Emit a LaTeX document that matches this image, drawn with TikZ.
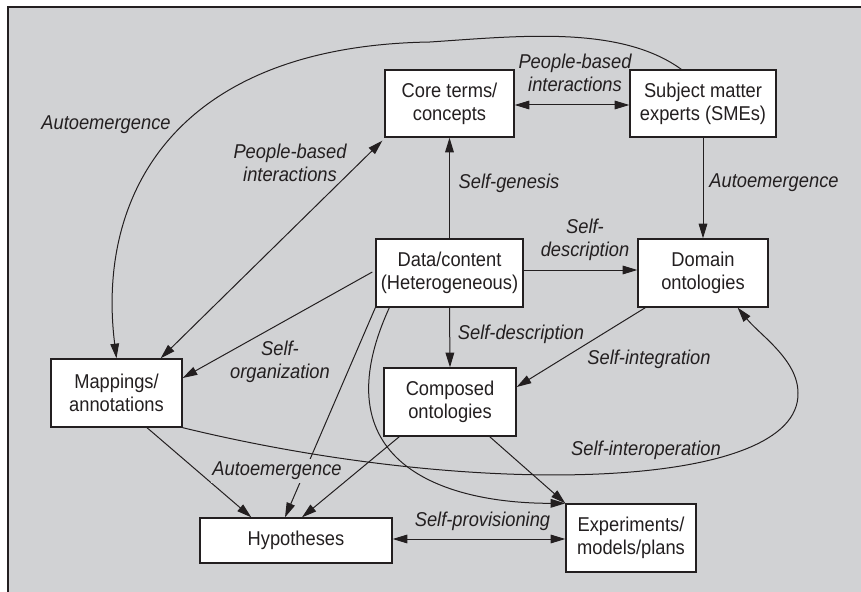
\documentclass[tikz,border=0pt]{standalone}
\usepackage{fontspec}
\setmainfont{Liberation Sans}[FakeStretch=0.915]
\usetikzlibrary{arrows.meta,calc}
\newdimen\pxu
\pxu=0.75pt
\definecolor{bg}{HTML}{D1D2D4}
\definecolor{ink}{HTML}{231F20}
\tikzset{
  box/.style={draw=ink, fill=white, line width=1pt, align=center, inner sep=0pt, text=ink},
  lbl/.style={font=\fontsize{15pt}{17pt}\selectfont\itshape, align=center, text=ink, inner sep=0pt},
  con/.style={draw=ink, line width=0.75pt, -{Triangle[length=11pt,width=6.5pt]}},
  dcon/.style={draw=ink, line width=0.75pt, {Triangle[length=11pt,width=6.5pt]}-{Triangle[length=11pt,width=6.5pt]}},
  every node/.style={font=\fontsize{15pt}{17pt}\selectfont}
}
\begin{document}
\begin{tikzpicture}[x=0.75pt, y=-0.75pt]
\useasboundingbox (0,0) rectangle (861,592);
\fill[bg] (8,7) rectangle (861,592);
\draw[ink, line width=1.2pt] (8,592) -- (8,7) -- (861,7);

% nodes
\node[box, minimum width=129\pxu, minimum height=67\pxu] (core) at (449.5,103.5) {Core terms/\\concepts};
\node[box, minimum width=146\pxu, minimum height=67\pxu] (sme) at (703,103.5) {Subject matter\\experts (SMEs)};
\node[box, minimum width=147\pxu, minimum height=68\pxu] (data) at (449.5,273) {Data/content\\(Heterogeneous)};
\node[box, minimum width=130\pxu, minimum height=68\pxu] (dom) at (703,273) {Domain\\ontologies};
\node[box, minimum width=131\pxu, minimum height=68\pxu] (map) at (116.5,393) {Mappings/\\annotations};
\node[box, minimum width=132\pxu, minimum height=68\pxu] (comp) at (450,402) {Composed\\ontologies};
\node[box, minimum width=192\pxu, minimum height=45\pxu] (hyp) at (296,540.5) {Hypotheses};
\node[box, minimum width=130\pxu, minimum height=68\pxu] (exp) at (631,538) {Experiments/\\models/plans};

% connectors
\draw[dcon] ([yshift=-1.5\pxu]core.east) -- ([yshift=-1.5\pxu]sme.west);
\draw[con] (sme.south) -- (dom.north);
\draw[con] (data.north) -- (core.south);
\draw[con] ([yshift=3\pxu]data.east) -- ([yshift=3\pxu]data.east -| dom.west);
\draw[con] (data.south) -- (comp.north);
\draw[con] ([xshift=8\pxu]dom.south west) -- ([yshift=15\pxu]comp.east);
\draw[con] ([xshift=-3\pxu,yshift=1\pxu]data.west) -- ([yshift=15\pxu]map.east);
\draw[con] ([xshift=52\pxu]sme.north west) .. controls (620,25) and (520,36) .. (430,42)
           .. controls (175,46) and (96,195) .. (map.north);
\draw[dcon] ([xshift=-22\pxu]map.north east) -- ([xshift=-2\pxu,yshift=-3\pxu]core.south west);
\draw[con] (data.south west) -- ([xshift=-11\pxu]hyp.north);
\draw[con] ([xshift=14\pxu]data.south west) .. controls +(-70,153) and +(-125,0) .. (exp.north west);
\draw[con] ([xshift=30.5\pxu]map.south) -- ([xshift=52\pxu]hyp.north west);
\draw[con] ([xshift=16\pxu]comp.south west) -- ([xshift=6\pxu]hyp.north);
\draw[con] ([xshift=-27\pxu]comp.south east) -- (exp.north west);
\draw[dcon] ([yshift=1.5\pxu]hyp.east) -- ([yshift=1.5\pxu]hyp.east -| exp.west);
\draw[con] (map.south east) .. controls (480,500) and (800,490) .. (798,393)
           .. controls (798,360) and (760,335) .. ([xshift=-31\pxu]dom.south east);

% labels
\node[lbl] (l1) at (575,73) {People-based\\interactions};
\node[lbl] (l2) at (774,183) {Autoemergence};
\node[lbl] (l3) at (509,183) {Self-genesis};
\node[lbl] (l4) at (585,240) {Self-\\description};
\node[lbl] (l5) at (521,334) {Self-description};
\node[lbl] (l6) at (649,359) {Self-integration};
\node[lbl] (l7) at (280,362) {Self-\\organization};
\node[lbl, fill=bg, inner ysep=2pt, inner xsep=1pt] (l8) at (277,471) {Autoemergence};
\node[lbl] (l9) at (482.5,521) {Self-provisioning};
\node[lbl] (l10) at (646,450) {Self-interoperation};
\node[lbl] (l11) at (106,125) {Autoemergence};
\node[lbl] (l12) at (290,163) {People-based\\interactions};
\end{tikzpicture}
\end{document}
